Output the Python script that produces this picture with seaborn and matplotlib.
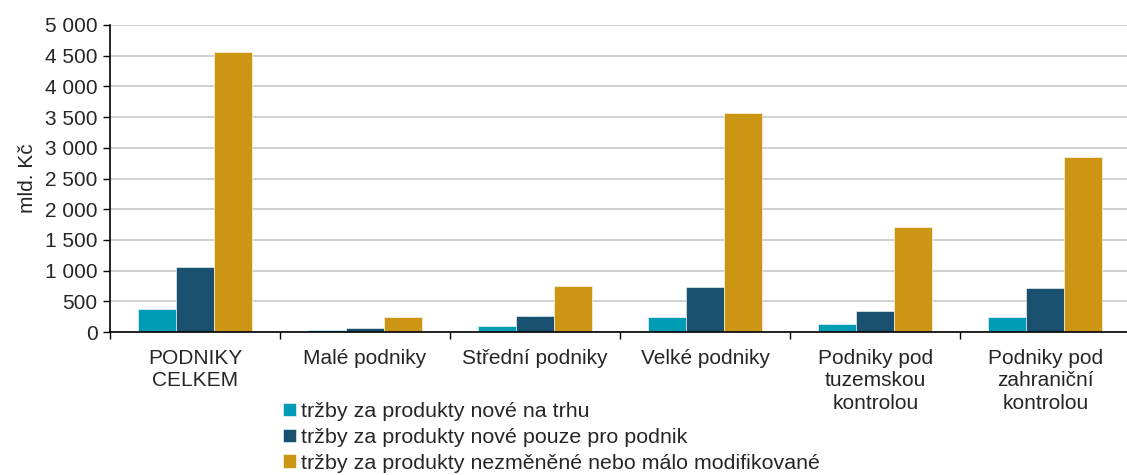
import numpy as np
import pandas as pd
import matplotlib
matplotlib.use("Agg")
import matplotlib.pyplot as plt
import seaborn as sns
from matplotlib.ticker import FuncFormatter, FixedLocator

# Data (mld. Kč)
kategorie = ["PODNIKY\nCELKEM", "Malé podniky", "Střední podniky", "Velké podniky",
             "Podniky pod\ntuzemskou\nkontrolou", "Podniky pod\nzahraniční\nkontrolou"]
serie = ["tržby za produkty nové na trhu",
         "tržby za produkty nové pouze pro podnik",
         "tržby za produkty nezměněné nebo málo modifikované"]
nove_na_trhu = [375, 30, 100, 240, 130, 240]
nove_pro_podnik = [1060, 60, 260, 740, 337, 717]
nezmenene = [4560, 240, 750, 3570, 1715, 2850]
barvy = ["#009BB4", "#19506F", "#CC9513"]

df = pd.DataFrame({
    "kategorie": kategorie * 3,
    "serie": [serie[0]] * 6 + [serie[1]] * 6 + [serie[2]] * 6,
    "hodnota": nove_na_trhu + nove_pro_podnik + nezmenene,
})

sns.set_style("white")
plt.rcParams["font.family"] = ["Liberation Sans", "DejaVu Sans"]
FS = 15

fig = plt.figure(figsize=(11.27, 4.75), dpi=100)
ax = fig.add_axes([110 / 1127, 1 - 332 / 475, 1 - 110 / 1127, (332 - 25) / 475])

sns.barplot(data=df, x="kategorie", y="hodnota", hue="serie", palette=barvy,
            width=0.67, ax=ax, edgecolor="white", linewidth=0.4, saturation=1)

ax.set_ylim(0, 5000)
ax.set_xlim(-0.5, 5.48)
ax.set_yticks(np.arange(0, 5001, 500))
ax.yaxis.set_major_formatter(FuncFormatter(lambda v, p: f"{int(v):,}".replace(",", " ")))
ax.grid(axis="y", color="#C8C8C8", linewidth=1.2)
ax.set_axisbelow(True)

ax.set_xlabel("")
ax.set_ylabel("mld. Kč", fontsize=FS, labelpad=6)
ax.tick_params(axis="y", labelsize=FS, length=5, width=1, color="black", pad=4, direction="out", left=True)
ax.tick_params(axis="x", which="major", length=0, labelsize=FS, pad=12)
ax.xaxis.set_minor_locator(FixedLocator(np.arange(-0.5, 6, 1.0)))
ax.tick_params(axis="x", which="minor", length=5, width=1, color="black", bottom=True)
for lbl in ax.get_xticklabels():
    lbl.set_linespacing(1.25)

for s in ["top", "right"]:
    ax.spines[s].set_visible(False)
for s in ["left", "bottom"]:
    ax.spines[s].set_color("black")
    ax.spines[s].set_linewidth(1.2)

ax.legend(loc="upper left", bbox_to_anchor=(283 / 1127, 1 - 402 / 475),
          bbox_transform=fig.transFigure, frameon=False, fontsize=15.4,
          handlelength=0.6, handleheight=0.6, handletextpad=0.25,
          labelspacing=0.32, borderaxespad=0, borderpad=0)

fig.savefig("out.png", dpi=100)
